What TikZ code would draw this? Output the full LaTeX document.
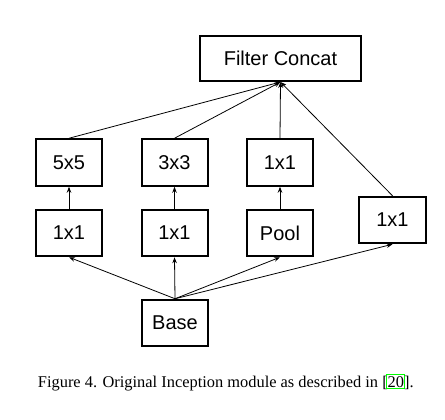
\documentclass[tikz,border=0pt]{standalone}
\usepackage{fontspec}
\setmainfont{Liberation Serif}
\newfontfamily\arialfont{Liberation Sans}
\usetikzlibrary{arrows.meta}
\definecolor{linkgreen}{RGB}{0,255,0}
\begin{document}
\begin{tikzpicture}[x=1pt,y=-1pt,
  box/.style={draw=black, line width=2pt, rectangle, inner sep=0pt,
    minimum width=66pt, minimum height=46.5pt,
    font=\arialfont\fontsize{20}{24}\selectfont},
  conn/.style={line width=0.8pt, -{Stealth[length=6pt,width=4.5pt]}}]
\useasboundingbox (0,0) rectangle (445,420);
\node[box, minimum width=161pt, minimum height=45pt] (fc) at (280.5,58.5) {Filter Concat};
\node[box] (c5) at (69,162.5) {5x5};
\node[box] (c3) at (174.5,162.5) {3x3};
\node[box] (p1) at (280,162.5) {1x1};
\node[box] (r1) at (69,233) {1x1};
\node[box] (r3) at (174.5,233) {1x1};
\node[box] (pool) at (280,233) {Pool};
\node[box, minimum width=67pt] (s1) at (392.5,220) {1x1};
\node[box] (base) at (175,323) {Base};
\draw[conn] (base.north) -- (r1.south);
\draw[conn] (base.north) -- (r3.south);
\draw[conn] (base.north) -- (pool.south);
\draw[conn] (base.north) -- (s1.south);
\draw[conn] (r1.north) -- (c5.south);
\draw[conn] (r3.north) -- (c3.south);
\draw[conn] (pool.north) -- (p1.south);
\draw[conn] (c5.north) -- (fc.south);
\draw[conn] (c3.north) -- (fc.south);
\draw[conn] (p1.north) -- (fc.south);
\draw[conn] (s1.north) -- (fc.south);
\node[anchor=base, inner sep=0pt, font=\fontsize{16.4}{19}\selectfont] (cap) at (225.8,387)
  {Figure 4. Original Inception module as described in [\makebox[0pt][l]{\hspace{-1.3pt}\raisebox{-1pt}{\textcolor{linkgreen}{\setlength\fboxsep{0.3pt}\setlength\fboxrule{1pt}\fbox{\rule{0pt}{13pt}\phantom{20}}}}}20].};
\end{tikzpicture}
\end{document}
